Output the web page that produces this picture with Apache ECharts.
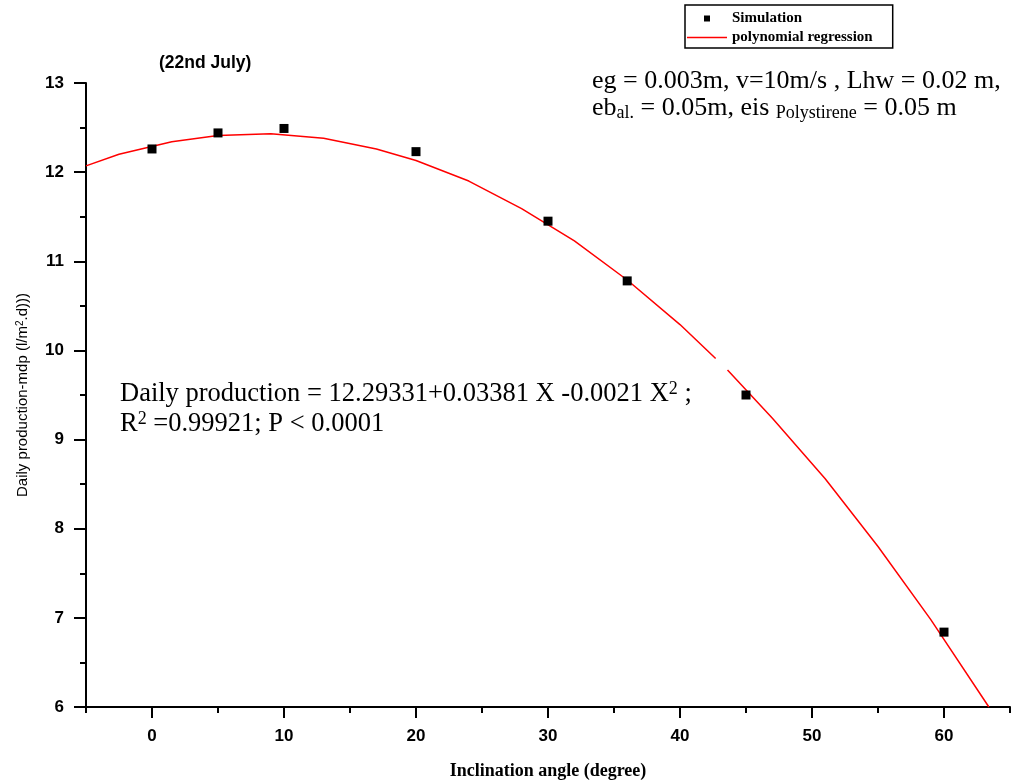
<!DOCTYPE html>
<html lang="en">
<head>
    <meta charset="UTF-8">
    <title>Daily production vs inclination</title>
    <script src="https://cdn.jsdelivr.net/npm/echarts@6/dist/echarts.min.js"></script>
    <style>
        html, body { margin: 0; padding: 0; background: #fff; }
    </style>
</head>
<body>
<div id="main" style="width: 1011px;height:780px;"></div>
<script type="text/javascript">
    // simulated points
    var simAngle = [0, 5, 10, 20, 30, 36, 45, 60];
    var simProd = [12.26, 12.44, 12.49, 12.23, 11.45, 10.78, 9.50, 6.84];

    // regression curve vertices (null = the small break near 43)
    var fitAngle = [-5, -2.5, 1.5, 5, 9, 13, 17, 20, 24, 28, 32, 36, 40, 42.7, 43.2, 43.6, 47, 51, 55, 59, 63.4];
    var fitProd = [12.07, 12.20, 12.34, 12.41, 12.43, 12.38, 12.26, 12.13, 11.90, 11.59, 11.23, 10.79, 10.29, 9.91, null, 9.78, 9.24, 8.56, 7.80, 6.98, 6.00];

    // axis ticks
    var xMajor = [0, 10, 20, 30, 40, 50, 60];
    var xMinor = [-5, 5, 15, 25, 35, 45, 55, 65];

    var serif = "'Liberation Serif', 'Times New Roman', serif";
    var sans = "'Liberation Sans', Arial, sans-serif";

    var simData = [];
    for (var i = 0; i < simAngle.length; i++) {
        simData.push([simAngle[i], simProd[i]]);
    }
    var fitData = [];
    for (var j = 0; j < fitAngle.length; j++) {
        fitData.push([fitAngle[j], fitProd[j] === null ? '-' : fitProd[j]]);
    }

    var myChart = echarts.init(document.getElementById('main'));

    var option = {
        animation: false,
        backgroundColor: '#fff',
        title: {
            text: '(22nd July)',
            left: 159,
            top: 54,
            padding: 0,
            textStyle: { fontFamily: sans, fontSize: 17.5, fontWeight: 'bold', color: '#000' }
        },
        legend: {
            orient: 'vertical',
            left: 685,
            top: 5,
            padding: [5, 20, 2, 2],
            itemGap: 2,
            itemWidth: 40,
            itemHeight: 6,
            borderColor: '#000',
            borderWidth: 1.5,
            borderRadius: 0,
            textStyle: { fontFamily: serif, fontSize: 15, fontWeight: 'bold', color: '#000', lineHeight: 17 },
            data: [
                { name: 'Simulation', icon: 'path://M0,0L10,0L10,10L0,10Z' },
                { name: 'polynomial regression', icon: 'path://M0,0L40,0L40,1.5L0,1.5Z' }
            ]
        },
        grid: { left: 86, right: 1, top: 83, bottom: 73, outerBoundsMode: 'none', containLabel: false },
        xAxis: [
            {
                type: 'value',
                position: 'bottom',
                min: -5,
                max: 65,
                name: 'Inclination angle (degree)',
                nameLocation: 'middle',
                nameGap: 55,
                nameTextStyle: { fontFamily: serif, fontSize: 18, fontWeight: 'bold', color: '#000' },
                axisLine: { show: true, onZero: false, lineStyle: { color: '#000', width: 2 } },
                axisTick: { show: true, length: 11, customValues: xMajor, lineStyle: { color: '#000', width: 2 } },
                axisLabel: { customValues: xMajor, margin: 21, fontFamily: sans, fontSize: 17, fontWeight: 'bold', color: '#000' },
                splitLine: { show: false }
            },
            {
                type: 'value',
                position: 'bottom',
                min: -5,
                max: 65,
                axisLine: { show: false, onZero: false },
                axisTick: { show: true, length: 6, customValues: xMinor, lineStyle: { color: '#000', width: 2 } },
                axisLabel: { show: false },
                splitLine: { show: false }
            }
        ],
        yAxis: {
            type: 'value',
            min: 6,
            max: 13,
            interval: 1,
            name: '{a|Daily production-mdp (l/m}{b|2}{a|.d)))}',
            nameLocation: 'middle',
            nameGap: 56,
            nameTextStyle: {
                rich: {
                    a: { fontFamily: sans, fontSize: 15, color: '#000' },
                    b: { fontFamily: sans, fontSize: 10, color: '#000', verticalAlign: 'top' }
                }
            },
            axisLine: { show: true, onZero: false, lineStyle: { color: '#000', width: 2 } },
            axisTick: { show: true, length: 12, lineStyle: { color: '#000', width: 2 } },
            minorTick: { show: true, splitNumber: 2, length: 6, lineStyle: { color: '#000', width: 2 } },
            axisLabel: { margin: 22, fontFamily: sans, fontSize: 17, fontWeight: 'bold', color: '#000' },
            splitLine: { show: false }
        },
        graphic: [
            {
                type: 'text',
                left: 592,
                top: 68,
                style: {
                    text: 'eg = 0.003m, v=10m/s , Lhw = 0.02 m,',
                    font: '26px ' + serif,
                    fill: '#000'
                }
            },
            {
                type: 'text',
                left: 592,
                top: 95,
                style: {
                    text: '{n|eb}{s|al.}{n| = 0.05m, eis }{s|Polystirene}{n| = 0.05 m}',
                    fill: '#000',
                    rich: {
                        n: { fontFamily: serif, fontSize: 26, lineHeight: 29 },
                        s: { fontFamily: serif, fontSize: 18, lineHeight: 18, verticalAlign: 'bottom' }
                    }
                }
            },
            {
                type: 'text',
                left: 120,
                top: 380,
                style: {
                    text: '{n|Daily production = 12.29331+0.03381 X -0.0021 X}{p|2}{n| ;}',
                    fill: '#000',
                    rich: {
                        n: { fontFamily: serif, fontSize: 26.5, lineHeight: 29 },
                        p: { fontFamily: serif, fontSize: 18, lineHeight: 18, verticalAlign: 'top' }
                    }
                }
            },
            {
                type: 'text',
                left: 120,
                top: 410,
                style: {
                    text: '{n|R}{p|2}{n| =0.99921; P < 0.0001}',
                    fill: '#000',
                    rich: {
                        n: { fontFamily: serif, fontSize: 26.5, lineHeight: 29 },
                        p: { fontFamily: serif, fontSize: 18, lineHeight: 18, verticalAlign: 'top' }
                    }
                }
            }
        ],
        series: [
            {
                name: 'polynomial regression',
                type: 'line',
                xAxisIndex: 0,
                data: fitData,
                symbol: 'none',
                connectNulls: false,
                lineStyle: { color: '#ff0000', width: 1.5 },
                itemStyle: { color: '#ff0000' },
                z: 2
            },
            {
                name: 'Simulation',
                type: 'scatter',
                xAxisIndex: 0,
                data: simData,
                symbol: 'rect',
                symbolSize: 9,
                itemStyle: { color: '#000', opacity: 1 },
                z: 3
            }
        ]
    };

    myChart.setOption(option);
</script>
</body>
</html>
